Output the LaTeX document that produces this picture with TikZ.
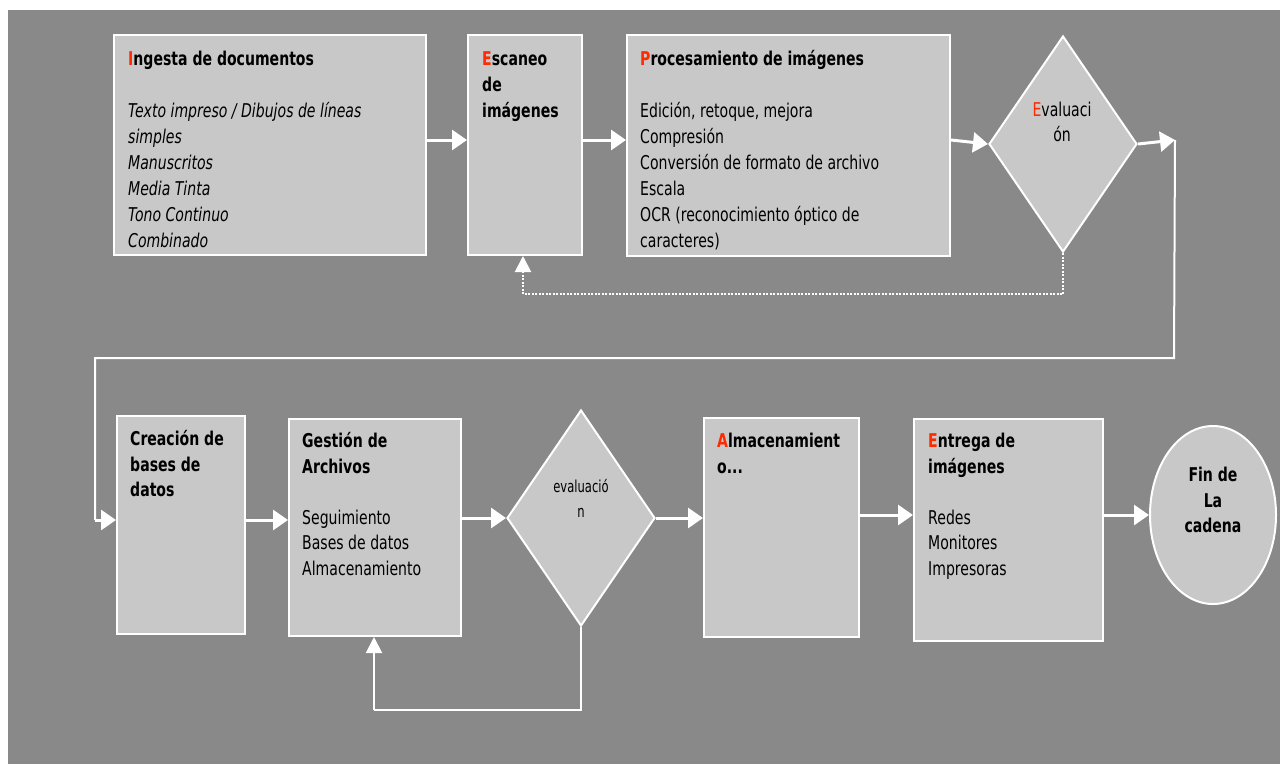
\documentclass[tikz,border=0pt]{standalone}
\usepackage{fontspec}
\setmainfont[FakeStretch=0.74]{DejaVu Sans}
\newfontfamily\smallevfont[FakeStretch=0.7]{DejaVu Sans}
\usetikzlibrary{shapes.geometric,arrows.meta}
\definecolor{bg}{HTML}{898989}
\definecolor{boxfill}{HTML}{C8C8C8}
\definecolor{initred}{HTML}{FF2A00}
\newcommand{\ini}[1]{{\color{initred}#1}}
\begin{document}
\begin{tikzpicture}[x=1pt,y=-1pt,
  box/.style={draw=white,line width=2pt,fill=boxfill,inner sep=0pt,anchor=north west},
  dia/.style={diamond,draw=white,line width=2pt,fill=boxfill,inner sep=0pt,minimum width=148pt,minimum height=216pt},
  txa/.style={anchor=north west,inner sep=0pt,align=left,font=\fontsize{19}{26}\selectfont},
  txb/.style={anchor=north west,inner sep=0pt,align=left,font=\fontsize{19}{25.5}\selectfont},
  arr/.style={draw=white,line width=3pt,-{Triangle[length=15pt,width=20pt]}},
  arrthin/.style={draw=white,line width=2pt,-{Triangle[length=16pt,width=16pt]}},
  conn/.style={draw=white,line width=2pt},
  dotconn/.style={draw=white,line width=2pt,dash pattern=on 2pt off 1.5pt}
]
\useasboundingbox (0,0) rectangle (1280,764);
\fill[white] (0,0) rectangle (1280,764);
\fill[bg] (8,10) rectangle (1280,764);

% row 1 boxes
\node[box,minimum width=312pt,minimum height=220pt] (b1) at (113,34) {};
\node[box,minimum width=114pt,minimum height=220pt] (b2) at (467,34) {};
\node[box,minimum width=323pt,minimum height=221pt] (b3) at (626,34) {};
\node[dia] (d1) at (1063,144) {};

% row 2 boxes
\node[box,minimum width=128pt,minimum height=218pt] (cre) at (116,415) {};
\node[box,minimum width=172pt,minimum height=217pt] (gest) at (288,418) {};
\node[dia] (d2) at (581,518) {};
\node[box,minimum width=155pt,minimum height=219pt] (alm) at (703,417) {};
\node[box,minimum width=189pt,minimum height=222pt] (ent) at (913,418) {};
\node[ellipse,draw=white,line width=2pt,fill=boxfill,inner sep=0pt,minimum width=126pt,minimum height=178pt] (fin) at (1213,515) {};

% texts row 1
\node[txa,font=\fontsize{19}{26}\selectfont\itshape] (t1) at ([xshift=15pt,yshift=-12.8pt]b1.north west)
  {\strut\textbf{\upshape\ini{I}ngesta de documentos}\\[26pt]
   Texto impreso / Dibujos de líneas\\ simples\\ Manuscritos\\ Media Tinta\\ Tono Continuo\\ Combinado};
\node[txa] (t2) at ([xshift=15pt,yshift=-12.8pt]b2.north west)
  {\bfseries\strut\ini{E}scaneo\\ \bfseries de\\ \bfseries imágenes};
\node[txa] (t3) at ([xshift=14pt,yshift=-12.8pt]b3.north west)
  {\strut\textbf{\ini{P}rocesamiento de imágenes}\\[26pt]
   Edición, retoque, mejora\\ Compresión\\ Conversión de formato de archivo\\ Escala\\
   OCR (reconocimiento óptico de\\ caracteres)};
\node[txa,anchor=north,align=center,font=\fontsize{19}{25}\selectfont] (t4) at (1062,98.8)
  {\strut\ini{E}valuaci\\ ón};

% texts row 2
\node[txb] (t5) at ([xshift=14pt,yshift=-12.8pt]cre.north west)
  {\bfseries\strut Creación de\\ \bfseries bases de\\ \bfseries datos};
\node[txb] (t6) at ([xshift=14pt,yshift=-11.8pt]gest.north west)
  {\strut\textbf{Gestión de}\\ \textbf{Archivos}\\[25.5pt]
   Seguimiento\\ Bases de datos\\ Almacenamiento};
\node[txb,anchor=north,align=center,font=\smallevfont\fontsize{16.5}{25}\selectfont] (t7) at (581,475)
  {\strut evaluació\\ n};
\node[txb] (t8) at ([xshift=14pt,yshift=-12.8pt]alm.north west)
  {\bfseries\strut\ini{A}lmacenamient\\ \bfseries o...};
\node[txb] (t9) at ([xshift=15pt,yshift=-11.8pt]ent.north west)
  {\strut\textbf{\ini{E}ntrega de}\\ \textbf{imágenes}\\[25.5pt]
   Redes\\ Monitores\\ Impresoras};
\node[txb,anchor=north,align=center] (t10) at (1213,463.8)
  {\bfseries\strut Fin de\\ \bfseries La\\ \bfseries cadena};

% helper coordinates
\coordinate (r1) at (0,140);
\coordinate (r2) at (0,520);
\coordinate (r3) at (0,515);
\coordinate (k1) at (1175,140);
\coordinate (k2) at (1174,358);
\coordinate (k3) at (95,358);
\coordinate (k4) at (95,520);
\coordinate (k5) at (581,710);
\coordinate (k6) at (374,710);
\coordinate (k7) at (1063,294);
\coordinate (k8) at (523,294);

% row 1 connectors
\draw[arr] (b1.east|-r1) -- (b2.west|-r1);
\draw[arr] (b2.east|-r1) -- (b3.west|-r1);
\draw[arr] (b3.east|-r1) -- (d1.west);
\draw[arr] (d1.east) -- (k1);
\draw[conn] (k1) -- (k2) -- (k3) -- (k4);
\draw[arr] (k4) -- (cre.west|-k4);
\draw[dotconn] (d1.south) -- (k7) -- (k8);
\draw[dotconn,-{Triangle[length=16pt,width=16pt]}] (k8) -- (k8|-b2.south);

% row 2 connectors
\draw[arr] (cre.east|-r2) -- (gest.west|-r2);
\draw[arr] (gest.east|-d2.west) -- (d2.west);
\draw[arr] (d2.east) -- (alm.west|-d2.east);
\draw[arr] (alm.east|-r3) -- (ent.west|-r3);
\draw[arr] (ent.east|-fin.west) -- (fin.west);
\draw[conn] (d2.south) -- (k5) -- (k6);
\draw[arrthin] (k6) -- (k6|-gest.south);
\end{tikzpicture}
\end{document}
